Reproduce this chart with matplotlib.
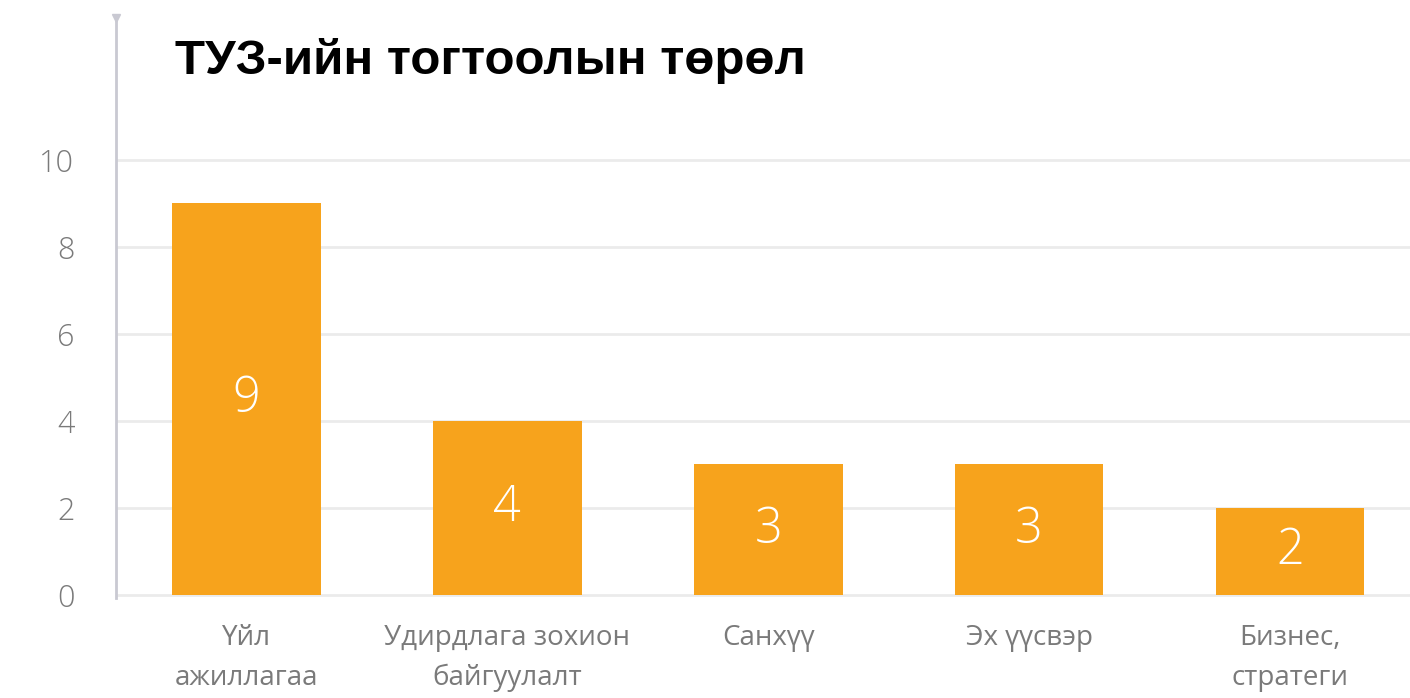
import numpy as np
from matplotlib import pyplot as plt

# data
categories = ["Үйл\nажиллагаа", "Удирдлага зохион\nбайгуулалт", "Санхүү", "Эх үүсвэр", "Бизнес,\nстратеги"]
counts = [9, 4, 3, 3, 2]
yticks = [0, 2, 4, 6, 8, 10]

bar_color = "#F7A31C"
grid_color = "#ebebeb"
axis_color = "#c9c9d2"
label_color = "#7a7a7a"

plt.rcParams['font.family'] = ['Open Sans', 'DejaVu Sans']

fig = plt.figure(figsize=(14.1, 6.98), dpi=100)
ax = fig.add_axes([0.0823, 0.1433, 0.9177, 0.8307])

x = np.arange(len(categories))
bars = ax.bar(x, counts, width=0.57, color=bar_color, zorder=3)

for xi, v in zip(x, counts):
    ax.text(xi, v / 2, str(v), ha='center', va='center', color='white',
            fontsize=35, fontweight='light', zorder=4)

ax.set_xlim(-0.5, 4.46)
ax.set_ylim(-0.07, 13.26)
ax.set_yticks(yticks)
ax.set_yticklabels([str(t) for t in yticks], fontsize=22, color=label_color, fontweight='light')
ax.tick_params(axis='y', length=0, pad=30)
ax.set_xticks(x)
ax.set_xticklabels(categories, fontsize=20, color=label_color, linespacing=1.55)
ax.tick_params(axis='x', length=0, pad=19)

for t in yticks:
    ax.axhline(t, color=grid_color, lw=2, zorder=1)

for s in ['top', 'right', 'bottom']:
    ax.spines[s].set_visible(False)
ax.spines['left'].set_color(axis_color)
ax.spines['left'].set_linewidth(2)
ax.plot(0, 1, marker='v', transform=ax.transAxes, clip_on=False,
        color=axis_color, ms=6)

fig.text(0.124, 0.912, "ТУЗ-ийн тогтоолын төрөл", fontsize=35.5, fontweight='bold',
         color='black', family=['Liberation Sans', 'DejaVu Sans'], va='center')

fig.savefig("out.png", dpi=100)
